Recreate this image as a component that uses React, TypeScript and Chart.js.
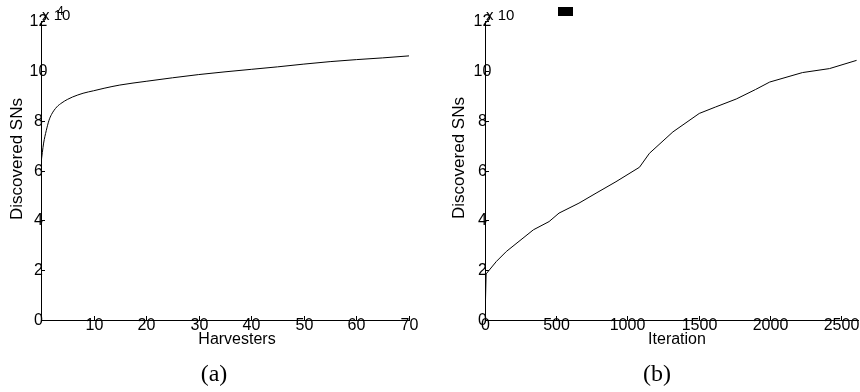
import React, { useEffect, useRef } from "react";
import { Chart, registerables } from "chart.js";

Chart.register(...registerables);

// ---- data (values in units of 10^4 discovered SNs) ----
const harvesters = [0, 0.5, 1, 1.5, 2, 3, 4, 5, 6, 8, 10, 12, 15, 20, 25, 30, 35, 40, 45, 50, 55, 60, 65, 70];
const snsByHarvesters = [6.3, 7.1, 7.6, 8.0, 8.25, 8.55, 8.72, 8.85, 8.95, 9.1, 9.2, 9.3, 9.43, 9.58, 9.72, 9.85, 9.96, 10.06, 10.16, 10.27, 10.37, 10.45, 10.52, 10.6];

const iterations = [0, 8, 80, 150, 340, 450, 520, 660, 780, 920, 1085, 1155, 1320, 1505, 1620, 1765, 1900, 2000, 2230, 2420, 2610];
const snsByIteration = [0, 1.85, 2.35, 2.75, 3.62, 3.95, 4.29, 4.69, 5.09, 5.55, 6.13, 6.69, 7.55, 8.29, 8.55, 8.87, 9.25, 9.55, 9.93, 10.09, 10.42];

// ---- tick labels ----
const yTickValues = [0, 2, 4, 6, 8, 10, 12];
const xTickValuesA = [0, 10, 20, 30, 40, 50, 60, 70];
const xTickValuesB = [0, 500, 1000, 1500, 2000, 2500];
const yMax = 12;
const xMaxA = 70;
const xMaxB = 2620;

const SANS = '"Liberation Sans", Arial, Helvetica, sans-serif';

type Deco = {
  xTitle: string;
  yTitle: string;
  xTitleX: number;
  xTitleY: number;
  yTitleX: number;
  yTitleY: number;
  showZeroX: boolean;
  exponent: boolean;
  blackBox: boolean;
};

function makeDecor(d: Deco) {
  return {
    id: "decor",
    afterDraw(chart: any) {
      const { ctx, chartArea, scales } = chart;
      const xs = scales.x;
      const ys = scales.y;
      ctx.save();
      ctx.strokeStyle = "#000";
      ctx.fillStyle = "#000";
      ctx.lineWidth = 1;
      ctx.textAlign = "center";
      ctx.textBaseline = "middle";
      ctx.font = `16px ${SANS}`;
      // inner tick marks + labels
      ys.ticks.forEach((t: any) => {
        const py = Math.round(ys.getPixelForValue(t.value)) + 0.5;
        ctx.beginPath();
        ctx.moveTo(chartArea.left, py);
        ctx.lineTo(chartArea.left + 4, py);
        ctx.stroke();
        ctx.fillText(String(t.value), chartArea.left - 2.5, py);
      });
      xs.ticks.forEach((t: any) => {
        const px = Math.round(xs.getPixelForValue(t.value)) + 0.5;
        ctx.beginPath();
        ctx.moveTo(px, chartArea.bottom);
        ctx.lineTo(px, chartArea.bottom - 4);
        ctx.stroke();
        if (t.value !== 0 || d.showZeroX) {
          ctx.fillText(String(t.value), px, chartArea.bottom + 5.5);
        }
      });
      ctx.font = `16px ${SANS}`;
      ctx.fillText(d.xTitle, d.xTitleX, d.xTitleY);
      ctx.save();
      ctx.translate(d.yTitleX, d.yTitleY);
      ctx.rotate(-Math.PI / 2);
      ctx.font = `17px ${SANS}`;
      ctx.fillText(d.yTitle, 0, 0);
      ctx.restore();
      // exponent label
      ctx.textAlign = "left";
      ctx.font = `15px ${SANS}`;
      ctx.fillText("x 10", chartArea.left + 1, 16);
      if (d.exponent) {
        ctx.font = `12px ${SANS}`;
        ctx.fillText("4", chartArea.left + 16, 12);
      }
      if (d.blackBox) {
        ctx.fillRect(chartArea.left + 73, 7, 15, 9);
      }
      ctx.restore();
    },
  };
}

function buildConfig(
  xs: number[],
  ys: number[],
  xMax: number,
  xTicks: number[],
  yAxisWidth: number,
  padRight: number,
  smooth: boolean,
  deco: Deco
): any {
  return {
    type: "line",
    data: {
      datasets: [
        {
          data: xs.map((x, i) => ({ x, y: ys[i] })),
          borderColor: "#000",
          borderWidth: 1,
          pointRadius: 0,
          fill: false,
          tension: 0,
          cubicInterpolationMode: smooth ? "monotone" : "default",
        },
      ],
    },
    options: {
      animation: false,
      responsive: false,
      parsing: false,
      layout: { padding: { left: 0, right: padRight, top: 21, bottom: 0 } },
      plugins: { legend: { display: false }, tooltip: { enabled: false } },
      scales: {
        x: {
          type: "linear",
          min: 0,
          max: xMax,
          afterBuildTicks(scale: any) {
            scale.ticks = xTicks.map((v) => ({ value: v }));
          },
          afterFit(scale: any) {
            scale.height = 72;
          },
          border: { display: true, color: "#000", width: 1 },
          grid: { drawOnChartArea: false, drawTicks: false },
          ticks: { display: false },
        },
        y: {
          type: "linear",
          min: 0,
          max: yMax,
          afterBuildTicks(scale: any) {
            scale.ticks = yTickValues.map((v) => ({ value: v }));
          },
          afterFit(scale: any) {
            scale.width = yAxisWidth;
          },
          border: { display: true, color: "#000", width: 1 },
          grid: { drawOnChartArea: false, drawTicks: false },
          ticks: { display: false },
        },
      },
    },
    plugins: [makeDecor(deco)],
  };
}

function Panel(props: { config: any }) {
  const ref = useRef<HTMLCanvasElement | null>(null);
  useEffect(() => {
    if (!ref.current) return;
    const chart = new Chart(ref.current, props.config);
    return () => chart.destroy();
  }, []);
  return <canvas ref={ref} width={430} height={392} style={{ display: "block" }} />;
}

export default function App() {
  const cfgA = buildConfig(harvesters, snsByHarvesters, xMaxA, xTickValuesA, 41, 21, true, {
    xTitle: "Harvesters",
    yTitle: "Discovered SNs",
    xTitleX: 237,
    xTitleY: 340,
    yTitleX: 17,
    yTitleY: 159,
    showZeroX: false,
    exponent: true,
    blackBox: false,
  });
  const cfgB = buildConfig(iterations, snsByIteration, xMaxB, xTickValuesB, 55, 2, false, {
    xTitle: "Iteration",
    yTitle: "Discovered SNs",
    xTitleX: 247,
    xTitleY: 340,
    yTitleX: 29,
    yTitleY: 158,
    showZeroX: true,
    exponent: false,
    blackBox: true,
  });
  const caption: React.CSSProperties = {
    position: "absolute",
    top: 360,
    width: 60,
    textAlign: "center",
    fontFamily: '"Liberation Serif", "Times New Roman", serif',
    fontSize: 24,
    lineHeight: "26px",
    color: "#000",
  };
  return (
    <div style={{ position: "fixed", left: 0, top: 0, width: 860, height: 392, background: "#fff", overflow: "hidden" }}>
      <div style={{ position: "absolute", left: 0, top: 0 }}>
        <Panel config={cfgA} />
      </div>
      <div style={{ position: "absolute", left: 430, top: 0 }}>
        <Panel config={cfgB} />
      </div>
      <div style={{ ...caption, left: 184 }}>(a)</div>
      <div style={{ ...caption, left: 627 }}>(b)</div>
    </div>
  );
}
